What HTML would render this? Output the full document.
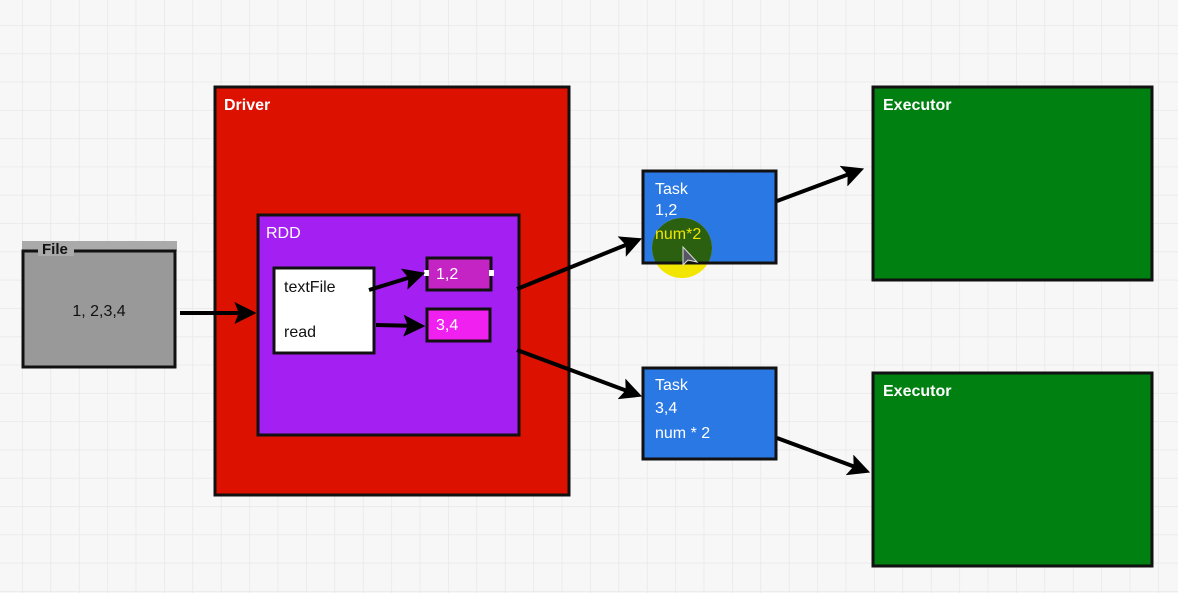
<!DOCTYPE html>
<html><head><meta charset="utf-8"><style>
html,body{margin:0;padding:0;background:#f6f6f6;}
svg{display:block;}
text{font-family:"Liberation Sans",sans-serif;}
</style></head><body>
<svg width="1178" height="593" viewBox="0 0 1178 593" xmlns="http://www.w3.org/2000/svg">
<defs>
<pattern id="g" x="22" y="25" width="28.4" height="28.3" patternUnits="userSpaceOnUse">
<path d="M0 0 H28.4 M0 0 V28.3" stroke="#e8e8e8" stroke-width="1.5" fill="none"/>
</pattern>
<marker id="a" viewBox="0 0 10 10" refX="8" refY="5" markerWidth="5.5" markerHeight="5.5" orient="auto">
<path d="M0 0 L10 5 L0 10 L2 5 Z" fill="#000"/>
</marker>
<clipPath id="t1"><rect x="643" y="171" width="133" height="92"/></clipPath>
</defs>
<rect width="1178" height="593" fill="#f7f7f7"/>
<rect width="1178" height="593" fill="url(#g)"/>

<rect x="22" y="241" width="155" height="10" fill="#aaaaaa"/>
<rect x="23" y="251" width="152" height="116" fill="#999999" stroke="#111" stroke-width="3"/>
<rect x="38" y="244" width="36" height="12" fill="#aaaaaa"/>
<text x="42" y="254" font-size="15" font-weight="bold" fill="#111">File</text>
<text x="99" y="316" font-size="16" fill="#111" text-anchor="middle">1, 2,3,4</text>

<rect x="215" y="87" width="354" height="408" fill="#dd1100" stroke="#111" stroke-width="3"/>
<text x="224" y="110" font-size="16" font-weight="bold" fill="#fff">Driver</text>

<rect x="258" y="215" width="261" height="220" fill="#a41ff2" stroke="#111" stroke-width="3"/>
<text x="266" y="238" font-size="16" fill="#fff">RDD</text>

<rect x="274" y="268" width="100" height="85" fill="#fff" stroke="#111" stroke-width="3"/>
<text x="284" y="292" font-size="16" fill="#111">textFile</text>
<text x="284" y="337" font-size="16" fill="#111">read</text>

<rect x="427" y="258" width="64" height="32" fill="#c424c4" stroke="#111" stroke-width="3"/>
<text x="436" y="279" font-size="16" fill="#fff">1,2</text>
<rect x="424" y="270" width="5" height="6" fill="#fff"/>
<rect x="489" y="270" width="5" height="6" fill="#fff"/>
<rect x="427" y="309" width="63" height="32" fill="#f020f0" stroke="#111" stroke-width="3"/>
<text x="436" y="330" font-size="16" fill="#fff">3,4</text>

<rect x="643" y="171" width="133" height="92" fill="#2a78e4" stroke="#111" stroke-width="3"/>
<circle cx="682" cy="248" r="30" fill="#f2e600"/>
<circle cx="682" cy="248" r="30" fill="#2a6010" clip-path="url(#t1)"/>
<rect x="643" y="171" width="133" height="92" fill="none" stroke="#111" stroke-width="3"/>
<text x="655" y="194" font-size="16" fill="#fff">Task</text>
<text x="655" y="215" font-size="16" fill="#fff">1,2</text>
<text x="655" y="239" font-size="16" fill="#f2e600">num*2</text>
<path d="M683 247 L683 265 L688 260 L697 262 Z" fill="#556" stroke="#ddd" stroke-width="1"/>

<rect x="643" y="368" width="133" height="91" fill="#2a78e4" stroke="#111" stroke-width="3"/>
<text x="655" y="390" font-size="16" fill="#fff">Task</text>
<text x="655" y="413" font-size="16" fill="#fff">3,4</text>
<text x="655" y="438" font-size="16" fill="#fff">num * 2</text>

<rect x="873" y="87" width="279" height="193" fill="#008010" stroke="#111" stroke-width="3"/>
<text x="883" y="110" font-size="16" font-weight="bold" fill="#fff">Executor</text>
<rect x="873" y="373" width="279" height="193" fill="#008010" stroke="#111" stroke-width="3"/>
<text x="883" y="396" font-size="16" font-weight="bold" fill="#fff">Executor</text>

<g stroke="#000" stroke-width="4" fill="none" marker-end="url(#a)">
<line x1="180" y1="313" x2="252" y2="313"/>
<line x1="369" y1="290" x2="421" y2="274"/>
<line x1="376" y1="325" x2="421" y2="326"/>
<line x1="517" y1="289" x2="638" y2="240"/>
<line x1="517" y1="350" x2="638" y2="395"/>
<line x1="777" y1="201" x2="860" y2="170"/>
<line x1="777" y1="438" x2="866" y2="471"/>
</g>
</svg>
</body></html>
